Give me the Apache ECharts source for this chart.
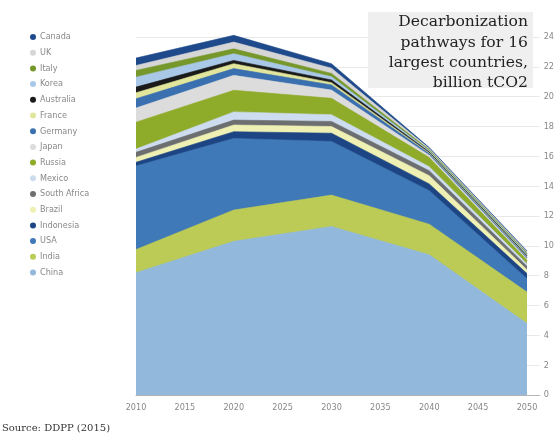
<!DOCTYPE html>
<html>
<head>
<meta charset="utf-8">
<script src="https://cdn.jsdelivr.net/npm/echarts@6/dist/echarts.min.js"></script>
<style>
  html, body { margin: 0; padding: 0; background: #fff; }
  #chart { width: 557px; height: 439px; }
</style>
</head>
<body>
<div id="chart"></div>
<script>
const years = [2010, 2020, 2030, 2040, 2050];
// stacked bottom to top
const countries = ["China", "India", "USA", "Indonesia", "Brazil", "South Africa", "Mexico", "Russia",
  "Japan", "Germany", "France", "Australia", "Korea", "Italy", "UK", "Canada"];
const china = [8.2, 10.3, 11.3, 9.4, 4.8];
const india = [1.55, 2.1, 2.1, 2.05, 2.1];
const usa = [5.6, 4.8, 3.6, 2.25, 0.9];
const indonesia = [0.25, 0.45, 0.55, 0.45, 0.34];
const brazil = [0.33, 0.45, 0.45, 0.55, 0.26];
const southAfrica = [0.34, 0.33, 0.34, 0.33, 0.23];
const mexico = [0.22, 0.55, 0.45, 0.27, 0.17];
const russia = [1.8, 1.45, 1.1, 0.62, 0.23];
const japan = [0.95, 1.0, 0.55, 0.15, 0.1];
const germany = [0.62, 0.45, 0.35, 0.1, 0.08];
const france = [0.4, 0.33, 0.15, 0.06, 0.06];
const australia = [0.38, 0.22, 0.18, 0.06, 0.07];
const korea = [0.67, 0.45, 0.22, 0.08, 0.09];
const italy = [0.45, 0.33, 0.22, 0.07, 0.08];
const uk = [0.33, 0.45, 0.35, 0.08, 0.08];
const canada = [0.5, 0.45, 0.3, 0.07, 0.07];
const values = [china, india, usa, indonesia, brazil, southAfrica, mexico, russia,
  japan, germany, france, australia, korea, italy, uk, canada];
const colors = ["#92b9dc", "#bccb55", "#4079b8", "#1e4583", "#eef0b4", "#6d6e70", "#cddcef", "#8fab2a",
  "#dcdcdc", "#3a6fb0", "#e2e69c", "#1a1a1a", "#a9c8e8", "#76982a", "#d6d6d6", "#1e4a8c"];

const narrow = '"Liberation Sans Narrow", "DejaVu Sans Condensed", sans-serif';

// running totals, each band is filled from its top down to the axis,
// drawn top band first so lower bands cover it
const tops = [];
values.forEach((arr, i) => {
  tops.push(arr.map((v, j) => v + (i ? tops[i - 1][j] : 0)));
});
const series = [];
for (let i = countries.length - 1; i >= 0; i--) {
  series.push({
    name: countries[i],
    type: "line",
    symbol: "none",
    clip: false,
    color: colors[i],
    lineStyle: { width: 0.6, color: colors[i] },
    areaStyle: { color: colors[i], opacity: 1 },
    data: years.map((y, j) => [y, +tops[i][j].toFixed(3)])
  });
}

const chart = echarts.init(document.getElementById("chart"));
chart.setOption({
  backgroundColor: "#fff",
  animation: false,
  grid: { left: 136, right: 12, top: 37, bottom: 44 },
  legend: {
    orient: "vertical",
    left: 25,
    top: 27,
    icon: "circle",
    itemWidth: 6,
    itemHeight: 6,
    itemGap: 5.7,
    data: countries.slice().reverse(),
    textStyle: { color: "#888", fontSize: 9, lineHeight: 10, fontFamily: narrow, padding: [0, 0, 0, -1] }
  },
  xAxis: {
    type: "value",
    min: 2010,
    max: 2051.3,
    interval: 5,
    axisLine: { lineStyle: { color: "#b5b5b5" } },
    axisTick: { show: false },
    splitLine: { show: false },
    axisLabel: {
      color: "#888", fontSize: 9, fontFamily: narrow, margin: 8,
      formatter: v => (v % 5 === 0 ? String(v) : "")
    }
  },
  yAxis: {
    type: "value",
    position: "right",
    min: 0,
    max: 24,
    interval: 2,
    axisLine: { show: false },
    axisTick: { show: false },
    splitLine: { lineStyle: { color: "#e8e8e8" } },
    axisLabel: { color: "#888", fontSize: 9, fontFamily: narrow, margin: 4 }
  },
  series: series,
  graphic: [
    {
      type: "rect",
      shape: { x: 368, y: 12, width: 165, height: 76 },
      style: { fill: "#efefef" },
      z: 10
    },
    {
      type: "text",
      x: 528,
      y: 12,
      z: 11,
      style: {
        text: "Decarbonization\npathways for 16\nlargest countries,\nbillion tCO2",
        align: "right",
        verticalAlign: "top",
        fill: "#222",
        font: '15.6px "DejaVu Serif", serif',
        lineHeight: 20.3
      }
    },
    {
      type: "text",
      x: 2,
      y: 423,
      style: {
        text: "Source: DDPP (2015)",
        fill: "#333",
        font: '10px "DejaVu Serif", serif'
      }
    }
  ]
});
</script>
</body>
</html>
